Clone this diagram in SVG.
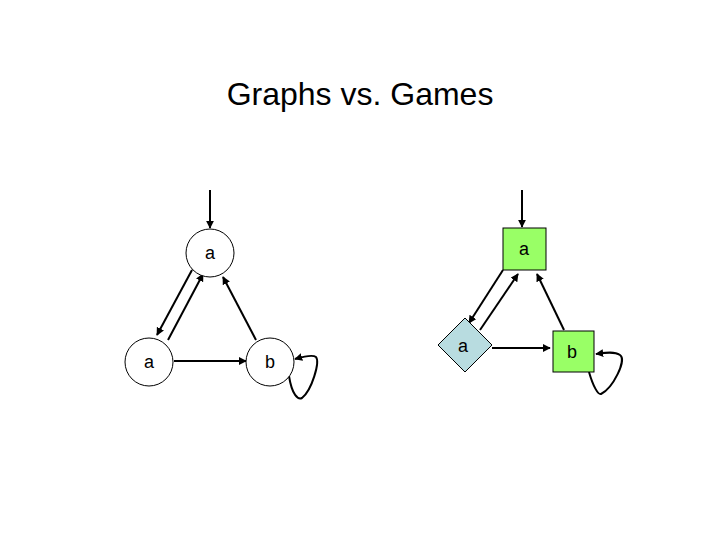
<svg xmlns="http://www.w3.org/2000/svg" width="720" height="540" viewBox="0 0 720 540">
<defs><marker id="ah" viewBox="0 0 10 10" refX="9" refY="5" markerWidth="4" markerHeight="4" orient="auto"><path d="M0,0 L10,5 L0,10 z" fill="#000"/></marker></defs>
<style>
.e{stroke:#000;stroke-width:2;fill:none;marker-end:url(#ah)}
.c{fill:#fff;stroke:#000;stroke-width:1}
.g{fill:#99ff66;stroke:#000;stroke-width:1}
.t{font-family:"Liberation Sans",Arial,sans-serif;font-size:18px;text-anchor:middle}
</style>
<rect width="720" height="540" fill="#fff"/>
<text x="360" y="105" style="font-family:'Liberation Sans',Arial,sans-serif;font-size:32px;text-anchor:middle">Graphs vs. Games</text>
<g id="connectors">
<path class="e" d="M210,190 L210,228"/>
<path class="e" d="M192,270 L157,335"/>
<path class="e" d="M168,340 L203,274"/>
<path class="e" d="M256,340 L223,277"/>
<path class="e" d="M174,361 L246,361"/>
<path class="e" d="M289,376 C292,395 298,400 302,398 C312,390 320,362 316,357 C312,354 302,357 295,359"/>
<path class="e" d="M522,190 L522,227"/>
<path class="e" d="M503,270 L469,323"/>
<path class="e" d="M480,330 L518,274"/>
<path class="e" d="M564,330 L537,274"/>
<path class="e" d="M492,348 L550,348"/>
<path class="e" d="M589,372 C593,386 598,395 601,394 C613,388 627,360 620,355 C614,351 604,353 596,354"/>
</g>
<g id="n1"><circle class="c" cx="210" cy="253" r="24"/><text class="t" x="210" y="259">a</text></g>
<g id="n2"><circle class="c" cx="149" cy="362" r="24"/><text class="t" x="149" y="368">a</text></g>
<g id="n3"><circle class="c" cx="270" cy="362" r="24"/><text class="t" x="270" y="368">b</text></g>
<g id="m1"><rect class="g" x="503" y="228" width="43" height="42"/><text class="t" x="524" y="255">a</text></g>
<g id="m2"><path d="M465,318 L492,345 L465,372 L438,345 z" fill="#b8dce0" stroke="#000"/><text class="t" x="463" y="352">a</text></g>
<g id="m3"><rect class="g" x="553" y="331" width="41" height="41"/><text class="t" x="572" y="358">b</text></g>
</svg>
